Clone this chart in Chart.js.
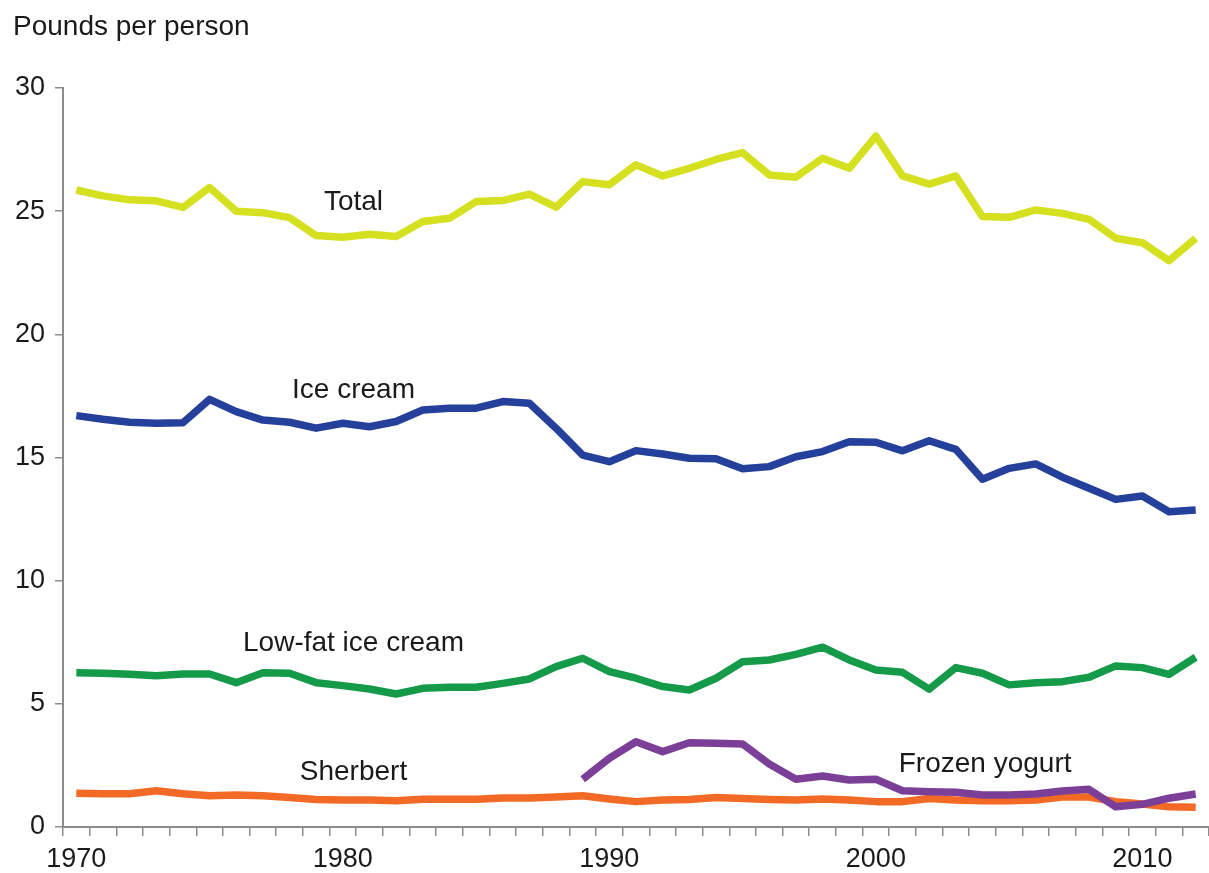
<!DOCTYPE html>
<html>
<head>
<meta charset="utf-8">
<title>Frozen dairy consumption</title>
<script src="https://cdn.jsdelivr.net/npm/chart.js@4.4.1/dist/chart.umd.min.js"></script>
<style>
  html, body { margin: 0; padding: 0; background: #fff; overflow: hidden; }
  #wrap { position: relative; width: 1209px; height: 873px; }
</style>
</head>
<body>
<div id="wrap"><canvas id="chart" width="1209" height="873"></canvas></div>
<script>
// ======================== data ========================
const years = [1970, 1971, 1972, 1973, 1974, 1975, 1976, 1977, 1978, 1979,
  1980, 1981, 1982, 1983, 1984, 1985, 1986, 1987, 1988, 1989,
  1990, 1991, 1992, 1993, 1994, 1995, 1996, 1997, 1998, 1999,
  2000, 2001, 2002, 2003, 2004, 2005, 2006, 2007, 2008, 2009,
  2010, 2011, 2012];

const yTicks = [0, 5, 10, 15, 20, 25, 30];

const total = [25.86, 25.62, 25.46, 25.42, 25.15, 25.96, 25.0, 24.94, 24.74, 24.01,
  23.94, 24.06, 23.97, 24.58, 24.71, 25.39, 25.43, 25.69, 25.16, 26.2,
  26.07, 26.88, 26.43, 26.74, 27.1, 27.38, 26.47, 26.38, 27.15, 26.74,
  28.05, 26.43, 26.1, 26.43, 24.78, 24.75, 25.05, 24.91, 24.67, 23.9,
  23.72, 22.99, 23.9];

const iceCream = [16.70, 16.55, 16.43, 16.39, 16.41, 17.36, 16.86, 16.52, 16.43, 16.19,
  16.39, 16.25, 16.46, 16.93, 17.0, 17.0, 17.27, 17.2, 16.19, 15.10,
  14.83, 15.28, 15.14, 14.97, 14.95, 14.54, 14.63, 15.03, 15.24, 15.64,
  15.62, 15.27, 15.68, 15.33, 14.12, 14.56, 14.74, 14.2, 13.75, 13.3,
  13.44, 12.8, 12.87];

const lowFat = [6.26, 6.24, 6.20, 6.14, 6.21, 6.21, 5.86, 6.26, 6.24, 5.86,
  5.74, 5.60, 5.40, 5.63, 5.67, 5.67, 5.83, 6.01, 6.51, 6.85,
  6.31, 6.04, 5.70, 5.56, 6.04, 6.71, 6.78, 7.01, 7.30, 6.78,
  6.37, 6.28, 5.60, 6.47, 6.24, 5.77, 5.86, 5.90, 6.08, 6.54,
  6.47, 6.20, 6.89];

const sherbert = [1.37, 1.35, 1.35, 1.47, 1.35, 1.27, 1.30, 1.27, 1.20, 1.12,
  1.10, 1.10, 1.07, 1.13, 1.13, 1.13, 1.18, 1.18, 1.22, 1.27,
  1.14, 1.03, 1.10, 1.12, 1.20, 1.16, 1.12, 1.10, 1.14, 1.10,
  1.03, 1.03, 1.16, 1.10, 1.07, 1.07, 1.10, 1.22, 1.22, 1.03,
  0.93, 0.82, 0.80];

// not reported before 1989
const frozenYogurt = [null, null, null, null, null, null, null, null, null, null,
  null, null, null, null, null, null, null, null, null, 1.94,
  2.79, 3.46, 3.06, 3.42, 3.40, 3.37, 2.56, 1.94, 2.07, 1.91,
  1.94, 1.47, 1.43, 1.41, 1.30, 1.30, 1.34, 1.46, 1.53, 0.82,
  0.92, 1.17, 1.34];

// series labels, placed in data coordinates (category index, value)
const seriesLabels = [
  { text: "Total", x: 10.4, y: 25.37 },
  { text: "Ice cream", x: 10.4, y: 17.74 },
  { text: "Low-fat ice cream", x: 10.4, y: 7.45 },
  { text: "Sherbert", x: 10.4, y: 2.23 },
  { text: "Frozen yogurt", x: 34.1, y: 2.56 },
];

// ======================== chart ========================
const FONT = "'Liberation Sans', Arial, Helvetica, sans-serif";
const AXIS_GRAY = "#8c8c8c";

const labelsPlugin = {
  id: "seriesLabels",
  afterDraw(chart) {
    const { ctx, scales } = chart;
    ctx.save();
    ctx.fillStyle = "#1a1a1a";
    ctx.font = "28px " + FONT;
    ctx.textAlign = "center";
    ctx.textBaseline = "middle";
    seriesLabels.forEach(l => {
      ctx.fillText(l.text, scales.x.getPixelForValue(l.x), scales.y.getPixelForValue(l.y));
    });
    // axis title top-left
    ctx.textAlign = "left";
    ctx.fillText("Pounds per person", 13, 27);
    ctx.restore();
  }
};

function line(data, color) {
  return {
    data: data,
    borderColor: color,
    borderWidth: 7.5,
    pointRadius: 0,
    tension: 0,
    borderJoinStyle: "round",
    spanGaps: false,
  };
}

new Chart(document.getElementById("chart"), {
  type: "line",
  data: {
    labels: years,
    datasets: [
      line(frozenYogurt, "#7b3f98"),
      line(sherbert, "#f26a25"),
      line(lowFat, "#149a48"),
      line(iceCream, "#24409a"),
      line(total, "#d5e021"),
    ]
  },
  options: {
    responsive: false,
    animation: false,
    layout: { padding: { top: 88, right: 0, left: 0, bottom: 0 } },
    plugins: { legend: { display: false }, tooltip: { enabled: false } },
    scales: {
      x: {
        type: "category",
        offset: true,
        afterFit: s => { s.height = 46; },
        grid: { offset: true, drawOnChartArea: false, tickLength: 9, color: AXIS_GRAY, lineWidth: 1.5 },
        border: { color: AXIS_GRAY, width: 2 },
        ticks: {
          autoSkip: false,
          maxRotation: 0,
          padding: 7,
          color: "#1a1a1a",
          font: { family: FONT, size: 27 },
          callback: (v, i) => (years[i] % 10 === 0 ? String(years[i]) : "")
        }
      },
      y: {
        min: yTicks[0],
        max: yTicks[yTicks.length - 1],
        afterFit: s => { s.width = 63; },
        afterBuildTicks: s => { s.ticks = yTicks.map(v => ({ value: v })); },
        grid: { drawOnChartArea: false, tickLength: 8, color: AXIS_GRAY, lineWidth: 1.5 },
        border: { color: AXIS_GRAY, width: 2 },
        ticks: {
          padding: 10,
          color: "#1a1a1a",
          font: { family: FONT, size: 27 }
        }
      }
    }
  },
  plugins: [labelsPlugin]
});
</script>
</body>
</html>
